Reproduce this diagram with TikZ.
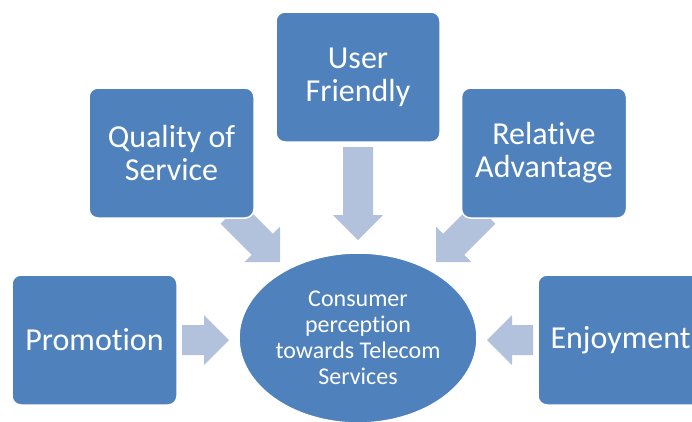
\documentclass[tikz,border=0pt]{standalone}
\usepackage{fontspec}
\setmainfont{Carlito}[Ligatures=NoCommon]
\usetikzlibrary{shapes.geometric}

\definecolor{boxblue}{HTML}{4F81BD}
\definecolor{arrowblue}{HTML}{B2C1DC}

% block arrow pointing along +x with its tip at the origin,
% moved to #1, turned by #2 degrees, #3 long overall
\newcommand{\blockarr}[3]{%
  \fill[arrowfill, shift={(#1)}, rotate=#2]
    (0,0) -- (-25,25) -- (-25,15) -- (-#3,15) -- (-#3,-15)
    -- (-25,-15) -- (-25,-25) -- cycle;}

\begin{document}
\begin{tikzpicture}[x=1pt, y=-1pt,
  arrowfill/.style={fill=arrowblue},
  factor/.style={rectangle, rounded corners=9pt, fill=boxblue, draw=white,
    line width=1.5pt, minimum width=165pt, minimum height=130pt,
    text=white, align=center, inner sep=0pt,
    font=\fontsize{32}{33}\selectfont},
  hub/.style={ellipse, fill=boxblue, draw=white, line width=1.5pt,
    minimum width=238pt, minimum height=170pt, inner sep=0pt,
    text=white, align=center, font=\fontsize{24}{26}\selectfont}]

\useasboundingbox (0,0) rectangle (692,421);

% arrow tips, all pointing at the central ellipse
\coordinate (tipPromo)   at (229,340);
\coordinate (tipQuality) at (280,262);
\coordinate (tipUser)    at (358,240);
\coordinate (tipRel)     at (436,262);
\coordinate (tipEnjoy)   at (487,340);

\blockarr{tipPromo}{0}{47}
\blockarr{tipQuality}{-45}{69}
\blockarr{tipUser}{-90}{93}
\blockarr{tipRel}{-135}{69}
\blockarr{tipEnjoy}{180}{46}

% factors
\node[factor] (promo)   at (94.5,340)  {Promotion};
\node[factor] (quality) at (171.5,153) {Quality of\\Service};
\node[factor, minimum width=164pt] (user) at (358,77) {User\\Friendly};
\node[factor] (rel)     at (544,153)   {Relative\\Advantage};
\node[factor] (enjoy)   at (620.5,340) {Enjoyment};

% central concept
\node[hub] (consumer) at (358,338)
  {Consumer\\perception\\towards Telecom\\Services};

\end{tikzpicture}
\end{document}
